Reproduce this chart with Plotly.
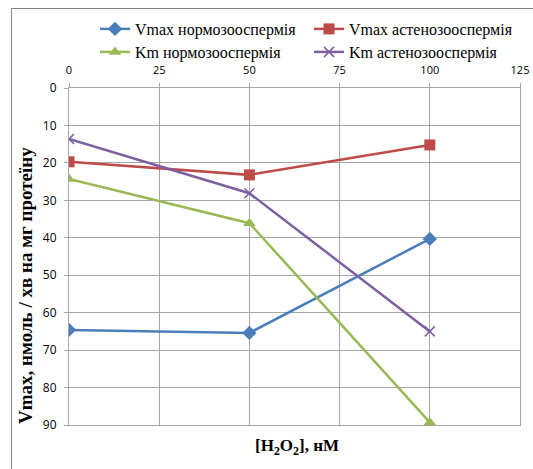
import plotly.graph_objects as go

x_vals = [0, 50, 100]
vmax_normo = [64.6, 65.4, 40.3]
vmax_asteno = [19.7, 23.2, 15.2]
km_normo = [24.3, 36.1, 89.3]
km_asteno = [13.6, 28.1, 65.0]

names = ["Vmax нормозооспермія", "Vmax астенозооспермія",
         "Km нормозооспермія", "Km астенозооспермія"]
series = [vmax_normo, vmax_asteno, km_normo, km_asteno]
colors = ["#4A7EBB", "#BE4B48", "#98B954", "#7D60A0"]
symbols = ["diamond", "square", "triangle-up", "x-thin"]
sizes = [11, 11, 11, 10]
legends = ["legend", "legend2", "legend3", "legend4"]
# legend entry anchor positions (px from left, px from top)
leg_pos = [(103, 12), (317, 12), (103, 35), (317, 35)]

W, H = 533, 469
L, R, T, B = 69, 13, 88, 44
pw = W - L - R
ph = H - T - B

fig = go.Figure()
for n, s, c, sym, sz, lg in zip(names, series, colors, symbols, sizes, legends):
    fig.add_trace(go.Scatter(
        x=x_vals, y=s, name=n, mode="lines+markers",
        line=dict(color=c, width=2.5),
        marker=dict(symbol=sym, size=sz, color=c,
                    line=dict(color=c, width=1.5 if sym == "x-thin" else 0)),
        legend=lg,
    ))

leg_layout = {}
for lg, (px, py) in zip(legends, leg_pos):
    leg_layout[lg] = dict(
        orientation="v", yanchor="top", xanchor="left",
        x=(px - L - 8) / pw, y=1 + (T - py) / ph,
        font=dict(family="Liberation Serif", size=16, color="#000"),
        itemwidth=30, bgcolor="rgba(0,0,0,0)",
    )

fig.update_layout(
    width=W, height=H,
    margin=dict(l=L, r=R, t=T, b=B, autoexpand=False),
    paper_bgcolor="white", plot_bgcolor="white",
    showlegend=True,
    **leg_layout,
    xaxis=dict(
        range=[0, 125], dtick=25, side="top",
        showgrid=True, gridcolor="#A6A6A6", gridwidth=1,
        showline=True, linecolor="#A6A6A6", mirror=True,
        ticks="outside", ticklen=4, tickcolor="#A6A6A6",
        tickfont=dict(family="Open Sans", size=11, color="#000"),
        ticklabelstandoff=5,
        zeroline=False,
    ),
    yaxis=dict(
        range=[90, 0], dtick=10,
        showgrid=True, gridcolor="#A6A6A6", gridwidth=1,
        showline=True, linecolor="#A6A6A6", mirror=True,
        ticks="outside", ticklen=4, tickcolor="#A6A6A6",
        tickfont=dict(family="Open Sans", size=12, color="#000"),
        ticklabelstandoff=5,
        zeroline=False,
    ),
    annotations=[
        dict(text="Vmax, нмоль / хв на мг протеїну", textangle=-90,
             xref="paper", yref="paper",
             x=(25 - L) / pw, y=(H - B - 286) / ph,
             xanchor="center", yanchor="middle", showarrow=False,
             font=dict(family="Liberation Serif", size=19, color="#000",
                       weight="bold")),
        dict(text="[H<sub>2</sub>O<sub>2</sub>], нМ",
             xref="paper", yref="paper",
             x=(297 - L) / pw, y=(H - B - 447) / ph,
             xanchor="center", yanchor="middle", showarrow=False,
             font=dict(family="Liberation Serif", size=17, color="#000",
                       weight="bold")),
    ],
    shapes=[
        dict(type="rect", xref="paper", yref="paper",
             x0=(11.5 - L) / pw, x1=(W + 5 - L) / pw,
             y0=(H - B - (H + 5)) / ph, y1=(H - B - 8.5) / ph,
             line=dict(color="#878787", width=1), layer="below"),
    ],
)

fig.write_html("out.html")
